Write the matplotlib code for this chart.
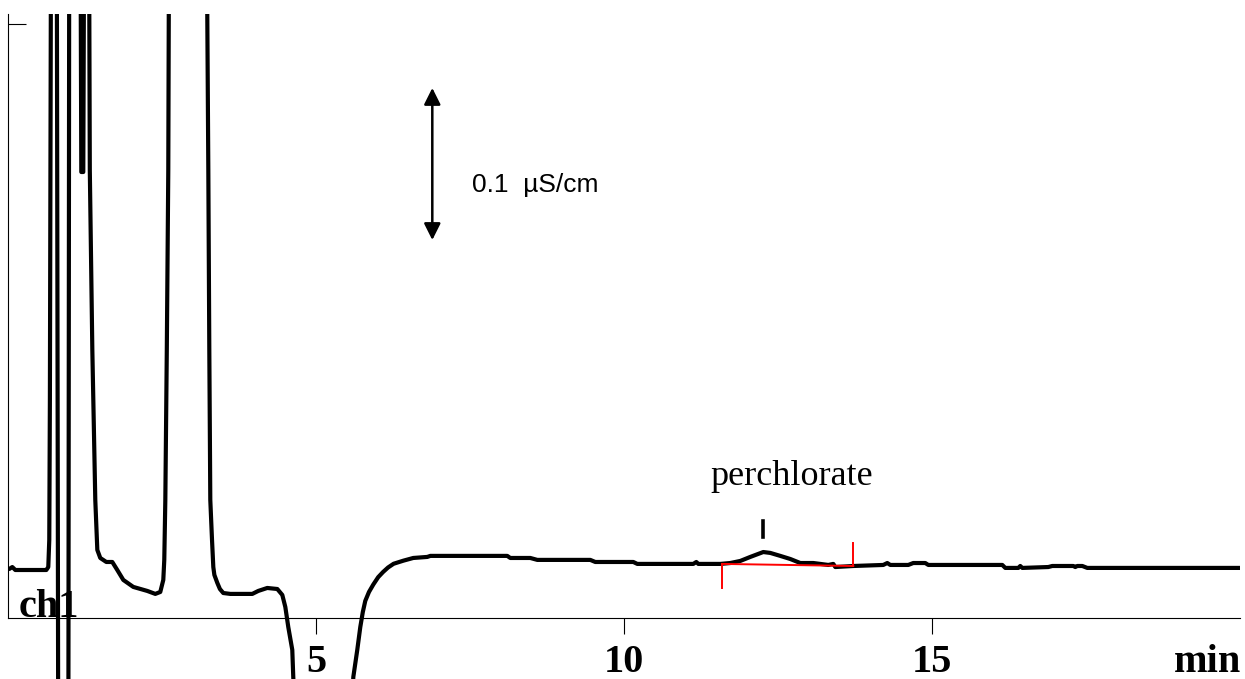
import matplotlib.pyplot as plt
import numpy as np

# chromatogram trace: time (min) and conductivity (uS/cm), values above/below the view are off-scale
t = [0.021, 0.070, 0.119, 0.622, 0.654, 0.670, 0.680, 0.695, 0.705, 0.790,
     0.817, 0.979, 0.995, 1.174, 1.190, 1.222, 1.239, 1.304, 1.320, 1.328,
     1.369, 1.417, 1.450, 1.498, 1.596, 1.693, 1.774, 1.872, 2.034, 2.261,
     2.391, 2.472, 2.521, 2.537, 2.554, 2.578, 2.602, 2.610, 2.620, 3.225,
     3.235, 3.252, 3.268, 3.284, 3.312, 3.333, 3.350, 3.398, 3.440, 3.495,
     3.609, 3.966, 4.063, 4.209, 4.372, 4.453, 4.502, 4.550, 4.615, 4.631,
     4.664, 4.696, 4.907, 5.120, 5.362, 5.541, 5.573, 5.606, 5.670, 5.719,
     5.760, 5.800, 5.860, 5.930, 6.010, 6.090, 6.170, 6.260, 6.420, 6.579,
     6.807, 6.856, 8.105, 8.154, 8.479, 8.593, 9.453, 9.534, 10.151, 10.216,
     11.125, 11.174, 11.206, 11.563, 11.726, 11.888, 12.050, 12.261, 12.375, 12.537,
     12.700, 12.862, 13.073, 13.317, 13.398, 13.430, 13.722, 14.209, 14.274, 14.323,
     14.615, 14.696, 14.891, 14.940, 16.141, 16.190, 16.401, 16.433, 16.466, 16.888,
     16.953, 17.294, 17.326, 17.359, 17.440, 17.521, 20.0]
signal = [0.0330, 0.0343, 0.0323, 0.0323, 0.0343, 0.0525, 0.1468, 0.4067, 0.50, 0.50,
          -0.12, -0.12, 0.50, 0.50, 0.3003, 0.3003, 0.50, 0.50, 0.4067, 0.3017,
          0.1805, 0.0795, 0.0458, 0.0404, 0.0377, 0.0377, 0.0323, 0.0256, 0.0209, 0.0182,
          0.0162, 0.0175, 0.0256, 0.0391, 0.0795, 0.1805, 0.3017, 0.4067, 0.50, 0.50,
          0.4067, 0.3017, 0.1805, 0.0795, 0.0525, 0.0343, 0.0290, 0.0236, 0.0195, 0.0168,
          0.0162, 0.0162, 0.0182, 0.0202, 0.0195, 0.0155, 0.0074, -0.0061, -0.0215, -0.0397,
          -0.0687, -0.095, -0.135, -0.150, -0.135, -0.095, -0.0687, -0.0397, -0.0215, -0.0061,
          0.0040, 0.0115, 0.0175, 0.0225, 0.0275, 0.0310, 0.0340, 0.0365, 0.0386, 0.0404,
          0.0411, 0.0418, 0.0418, 0.0404, 0.0404, 0.0391, 0.0391, 0.0377, 0.0377, 0.0364,
          0.0364, 0.0377, 0.0364, 0.0364, 0.0370, 0.0384, 0.0411, 0.0444, 0.0438, 0.0418,
          0.0397, 0.0370, 0.0370, 0.0357, 0.0364, 0.0343, 0.0350, 0.0357, 0.0370, 0.0357,
          0.0357, 0.0370, 0.0370, 0.0357, 0.0357, 0.0337, 0.0337, 0.0350, 0.0337, 0.0343,
          0.0350, 0.0350, 0.0343, 0.0350, 0.0350, 0.0337, 0.0337]

# perchlorate integration (start, end) and peak apex
int_t = [11.596, 13.722]
int_base = [0.0364, 0.0350]
int_marks = [0.0202, 0.0505]
apex_t = 12.261
apex_mark = [0.0545, 0.0653]

xticks = [5, 10, 15]
scale_bar = [0.2545, 0.3569]   # 0.1 uS/cm
scale_t = 6.888

fig = plt.figure(figsize=(12.45, 6.79), dpi=100)
ax = fig.add_axes([8 / 1245, 0, 1232 / 1245, 665 / 679])
ax.set_xlim(0, 20)
ax.set_ylim(-0.0411, 0.4067)

ax.plot(t, signal, color='black', lw=3, solid_joinstyle='round', solid_capstyle='round')

# integration baseline and delimiters
ax.plot(int_t, int_base, color='#ff0000', lw=1.4)
ax.plot([int_t[0], int_t[0]], [int_base[0], int_marks[0]], color='#ff0000', lw=1.4)
ax.plot([int_t[1], int_t[1]], [int_base[1], int_marks[1]], color='#ff0000', lw=1.4)
ax.plot([apex_t, apex_t], apex_mark, color='black', lw=2.6)

ax.annotate('', xy=(scale_t, scale_bar[1]), xytext=(scale_t, scale_bar[0]),
            arrowprops=dict(arrowstyle='<|-|>', lw=1.8, color='black',
                            mutation_scale=25, shrinkA=0, shrinkB=0))
ax.text(7.537, 0.2916, '0.1  µS/cm', fontsize=19, family='Liberation Sans',
        ha='left', va='center')
ax.text(12.716, 0.0896, 'perchlorate', fontsize=26, family='Liberation Serif',
        ha='center', va='baseline')
ax.text(0.17, 0.0005, 'ch1', fontsize=29, family='Liberation Serif',
        fontweight='bold', ha='left', va='baseline')
ax.text(18.93, -0.0364, 'min', fontsize=29, family='Liberation Serif',
        fontweight='bold', ha='left', va='baseline', clip_on=False)

for s in ['top', 'right']:
    ax.spines[s].set_visible(False)
ax.spines['bottom'].set_position(('data', 0))
ax.spines['left'].set_bounds(0, 0.4067)
ax.spines['bottom'].set_linewidth(0.8)
ax.spines['left'].set_linewidth(0.8)

ax.set_xticks(xticks)
ax.set_xticklabels([str(v) for v in xticks], fontsize=29, family='Liberation Serif',
                   fontweight='bold')
ax.tick_params(axis='x', direction='out', length=11.5, width=0.8, pad=7)
ax.set_yticks([0.4])
ax.set_yticklabels([''])
ax.tick_params(axis='y', direction='in', length=13, width=0.8)

fig.savefig('out.png', dpi=100)
